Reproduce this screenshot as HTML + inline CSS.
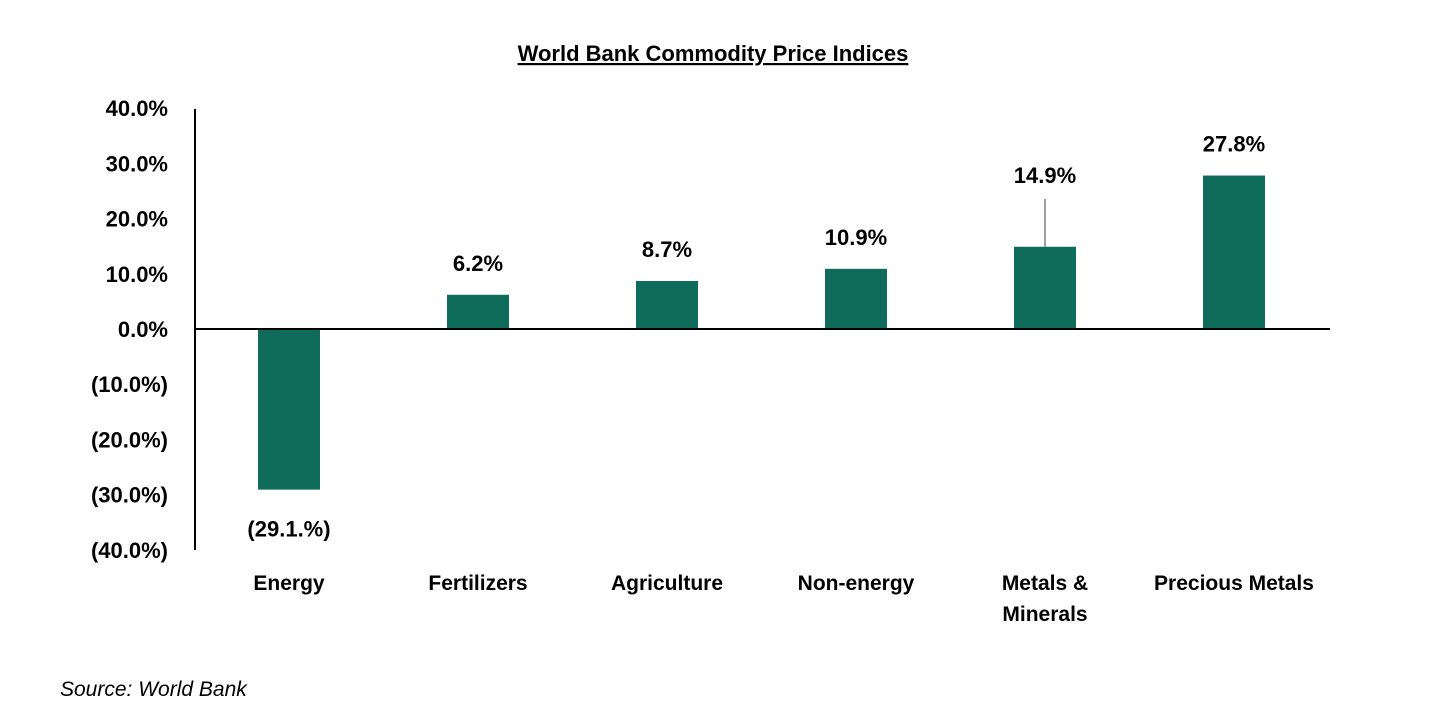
<!DOCTYPE html>
<html><head><meta charset="utf-8"><style>
body{margin:0;background:#fff;}
svg{display:block;font-family:"Liberation Sans",Arial,sans-serif;}
</style></head><body>
<svg id="chart" width="1452" height="720">
<text x="713" y="61" text-anchor="middle" font-size="22" font-weight="bold" text-decoration="underline">World Bank Commodity Price Indices</text>
<text x="60" y="696" font-size="21" font-style="italic">Source: World Bank</text>
<g id="plot"></g>
</svg>
<script>
const categories=["Energy","Fertilizers","Agriculture","Non-energy","Metals & Minerals","Precious Metals"];
const values=[-29.1,6.2,8.7,10.9,14.9,27.8];
const valueLabels=["(29.1.%)","6.2%","8.7%","10.9%","14.9%","27.8%"];
const ticks=[40,30,20,10,0,-10,-20,-30,-40];
const tickLabels=["40.0%","30.0%","20.0%","10.0%","0.0%","(10.0%)","(20.0%)","(30.0%)","(40.0%)"];
const NS="http://www.w3.org/2000/svg";
const g=document.getElementById('plot');
const y0=329, ppu=5.52;
const y=v=>y0-v*ppu;
const x=i=>289+i*189;
const bw=62;
function mk(t,a){const e=document.createElementNS(NS,t);for(const k in a)e.setAttribute(k,a[k]);g.appendChild(e);return e;}
ticks.forEach((t,i)=>{
 const e=mk('text',{x:168,y:y(t)+8,'text-anchor':'end','font-size':22,'font-weight':'bold'});
 e.textContent=tickLabels[i];
 
 
});
values.forEach((v,i)=>{
 const r=mk('rect',{x:x(i)-bw/2,y:Math.min(y(v),y0),width:bw,height:Math.abs(y(v)-y0),fill:'#0f6b5a'});
 
 
 let ly;
 if(v<0) ly=y(v)+47;
 else if(i===4){ly=y(v)-64;
  const l=mk('line',{x1:x(i),x2:x(i),y1:y(v)-48,y2:y(v),stroke:'#a0a0a0','stroke-width':2});
  
  }
 else ly=y(v)-24;
 const t=mk('text',{x:x(i),y:ly,'text-anchor':'middle','font-size':22,'font-weight':'bold'});
 t.textContent=valueLabels[i];
 
 
 const parts=categories[i]==="Metals & Minerals"?["Metals  &","Minerals"]:[categories[i]];
 parts.forEach((p,j)=>{
  const c=mk('text',{x:x(i),y:590+j*31,'text-anchor':'middle','font-size':21,'font-weight':'bold','xml:space':'preserve'});
  c.textContent=p;
  
  
 });
});
const ax=mk('line',{x1:195,x2:195,y1:109,y2:550,stroke:'#000','stroke-width':2});


const zl=mk('line',{x1:194,x2:1330,y1:y0,y2:y0,stroke:'#000','stroke-width':2});


</script>
</body></html>
